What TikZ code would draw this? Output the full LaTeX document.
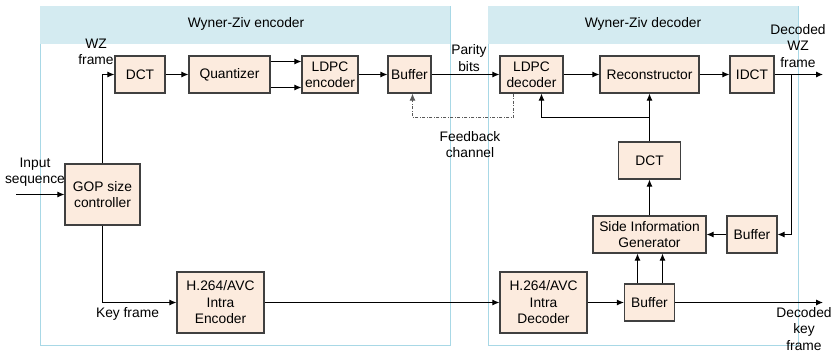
\documentclass[tikz,border=0pt]{standalone}
\usepackage{fontspec}
\setmainfont{Liberation Sans}
\usetikzlibrary{arrows.meta}
\definecolor{boxfill}{HTML}{FCEBDE}
\definecolor{boxline}{HTML}{404040}
\definecolor{hdrfill}{HTML}{D4EBF1}
\definecolor{panelline}{HTML}{A8D8E6}
\tikzset{
  txt/.style={font=\fontsize{13.8}{16.5}\selectfont},
  box/.style={draw=boxline, fill=boxfill, line width=1.1, inner sep=1, align=center, txt},
  lbl/.style={inner sep=0, align=center, txt},
  arr/.style={line width=1, -{Latex[length=7,width=6]}},
  fbk/.style={line width=1, draw=black!65, dash pattern=on 3 off 1.5 on 1 off 1.5, -{Latex[length=7,width=6]}},
  panel/.style={draw=panelline, line width=1},
}
\begin{document}
\begin{tikzpicture}[x=1pt,y=-1pt]
\useasboundingbox (0,0) rectangle (837,353);
% panels
\fill[hdrfill] (40,6) rectangle (451,44);
\draw[panel] (40.5,44) -- (40.5,345.5) -- (450.5,345.5) -- (450.5,6);
\fill[hdrfill] (488,6) rectangle (799,44);
\draw[panel] (488.5,44) -- (488.5,345.5) -- (798.5,345.5) -- (798.5,6);
\node[lbl] (enct) at (246,24) {Wyner-Ziv encoder};
\node[lbl] (dect) at (643,24) {Wyner-Ziv decoder};
% encoder boxes
\node[box, minimum width=50, minimum height=37] (dct) at (140,74.5) {DCT};
\node[box, minimum width=81, minimum height=37] (quant) at (229.5,74.5) {Quantizer};
\node[box, minimum width=56, minimum height=37] (ldpce) at (330,74.5) {LDPC\\encoder};
\node[box, minimum width=43, minimum height=37] (bufe) at (409.5,74.5) {Buffer};
\node[box, minimum width=75, minimum height=61] (gop) at (102.5,194.5) {GOP size\\controller};
\node[box, minimum width=87, minimum height=61] (h264e) at (220.5,302.5) {H.264/AVC\\Intra\\Encoder};
% decoder boxes
\node[box, minimum width=63, minimum height=37] (ldpcd) at (531.5,74.5) {LDPC\\decoder};
\node[box, minimum width=99, minimum height=37] (recon) at (649.5,74.5) {Reconstructor};
\node[box, minimum width=44, minimum height=37] (idct) at (752,74.5) {IDCT};
\node[box, minimum width=62, minimum height=37] (dctd) at (649.5,160.5) {DCT};
\node[box, minimum width=113, minimum height=37] (sig) at (649.5,234.5) {Side Information\\Generator};
\node[box, minimum width=50, minimum height=37] (bufr) at (752,234.5) {Buffer};
\node[box, minimum width=87, minimum height=61] (h264d) at (543.5,302.5) {H.264/AVC\\Intra\\Decoder};
\node[box, minimum width=50, minimum height=37] (bufl) at (649.5,302.5) {Buffer};
% labels
\node[lbl] (wzf) at (96,52) {WZ\\frame};
\node[lbl] (ins) at (35,172) {Input\\sequence};
\node[lbl] (kf) at (127.5,314) {Key frame};
\node[lbl] (pb) at (469,58) {Parity\\bits};
\node[lbl] (fbl) at (470,144.5) {Feedback\\channel};
\node[lbl] (dwz) at (798,46) {Decoded\\WZ\\frame};
\node[lbl] (dkf) at (804,329) {Decoded\\key\\frame};
% coordinates
\coordinate (in) at (16,194.5);
\coordinate (outwz) at (823,74.5);
\coordinate (outkey) at (823,302.5);
\coordinate (br) at (649.5,117.5);
\coordinate (br2) at (791.5,74.5);
\coordinate (fb) at (513.5,117.5);
% connectors
\draw[arr] (in) -- (gop.west);
\draw[arr] (gop.north) |- (dct.west);
\draw[arr] (gop.south) |- (h264e.west);
\draw[arr] (dct.east) -- (quant.west);
\draw[arr] ([yshift=13]quant.east) -- ([yshift=13]ldpce.west);
\draw[arr] ([yshift=-13]quant.east) -- ([yshift=-13]ldpce.west);
\draw[arr] (ldpce.east) -- (bufe.west);
\draw[arr] (bufe.east) -- (ldpcd.west);
\draw[fbk] ([xshift=-18]ldpcd.south) |- ([xshift=3]bufe.south |- fb) -- ([xshift=3]bufe.south);
\draw[arr] (ldpcd.east) -- (recon.west);
\draw[arr] (recon.east) -- (idct.west);
\draw[arr] (idct.east) -- (outwz);
\draw[arr] (br2) |- (bufr.east);
\draw[arr] (bufr.west) -- (sig.east);
\draw[arr] (sig.north) -- (dctd.south);
\draw[arr] (dctd.north) -- (recon.south);
\draw[arr] (br) -| ([xshift=10]ldpcd.south);
\draw[arr] (h264e.east) -- (h264d.west);
\draw[arr] (h264d.east) -- (bufl.west);
\draw[arr] (bufl.east) -- (outkey);
\draw[arr] ([xshift=-12]bufl.north) -- ([xshift=-12]sig.south);
\draw[arr] ([xshift=13]bufl.north) -- ([xshift=13]sig.south);
\end{tikzpicture}
\end{document}
